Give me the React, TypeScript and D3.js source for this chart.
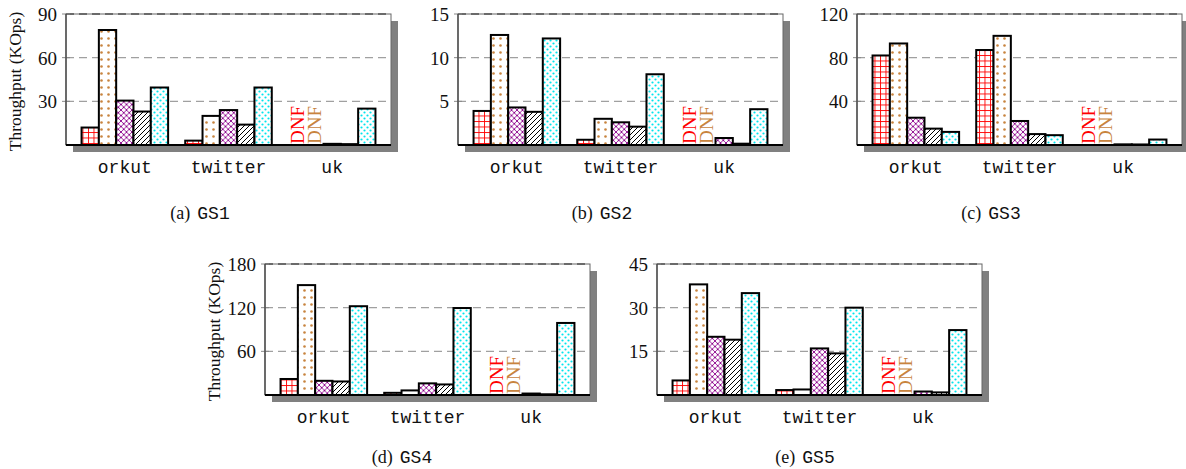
import React from "react";
import * as d3 from "d3";

// graph datasets on the x axis
const categories = ["orkut", "twitter", "uk"];
// five systems, one pattern each (no legend in the figure)
const systems = ["sysA", "sysB", "sysC", "sysD", "sysE"];

// throughput in KOps, rows follow categories, null = DNF
const gs1 = [
  [12, 79, 30.5, 23, 39.5],
  [3, 20, 24, 14, 39.5],
  [null, null, 0.8, 0.6, 25],
];
const gs2 = [
  [3.9, 12.6, 4.3, 3.8, 12.2],
  [0.6, 3.0, 2.6, 2.1, 8.1],
  [null, null, 0.8, 0.15, 4.1],
];
const gs3 = [
  [82, 93, 25, 15, 12],
  [87, 100, 22, 10, 9],
  [null, null, 0.6, 0.5, 5],
];
const gs4 = [
  [22, 151, 19.5, 18.6, 122],
  [3, 6.3, 16, 14.5, 119.5],
  [null, null, 2, 1, 99],
];
const gs5 = [
  [5, 38, 20, 19, 35],
  [1.7, 1.9, 16, 14.3, 30],
  [null, null, 1.2, 0.9, 22.3],
];

const yMaxes = [90, 15, 120, 180, 45];
const yTicks = [
  [30, 60, 90],
  [5, 10, 15],
  [40, 80, 120],
  [60, 120, 180],
  [15, 30, 45],
];
const captionLetters = ["(a)", "(b)", "(c)", "(d)", "(e)"];
const captionNames = ["GS1", "GS2", "GS3", "GS4", "GS5"];

const panelData = [gs1, gs2, gs3, gs4, gs5];
const layout = [
  { left: 66, top: 14, ylabel: true, capX: 200, capY: 218.5 },
  { left: 458, top: 14, ylabel: false, capX: 602, capY: 218.5 },
  { left: 857, top: 14, ylabel: false, capX: 991, capY: 218.5 },
  { left: 265, top: 264, ylabel: true, capX: 402, capY: 463 },
  { left: 657, top: 264, ylabel: false, capX: 805, capY: 463 },
];
const W = 325;
const H = 131;

const fills = ["url(#pGrid)", "url(#pDots)", "url(#pCross)", "url(#pHatch)", "url(#pCdots)"];
const dnfColors = ["#ff0000", "#c8843e"];
const serif = "'Liberation Serif', 'DejaVu Serif', serif";
const mono = "'Liberation Mono', 'DejaVu Sans Mono', monospace";

const Panel = ({ idx }: { idx: number }) => {
  const { left, top, ylabel, capX, capY } = layout[idx];
  const data = panelData[idx];
  const x = d3
    .scaleBand()
    .domain(categories)
    .range([left, left + W])
    .paddingInner(0.165)
    .paddingOuter(0.15);
  const xs = d3.scaleBand().domain(systems).range([0, x.bandwidth()]);
  const y = d3.scaleLinear().domain([0, yMaxes[idx]]).range([top + H, top]);
  const bottom = top + H;

  return (
    <g>
      <rect x={left + 7} y={top + 7} width={W} height={H} fill="#808080" />
      <rect x={left} y={top} width={W} height={H} fill="#fff" stroke="#666" strokeWidth={1} />
      {yTicks[idx].map((t) => (
        <g key={t}>
          <line
            x1={left}
            x2={left + W}
            y1={y(t)}
            y2={y(t)}
            stroke={t === yMaxes[idx] ? "#222" : "#a0a0a0"}
            strokeWidth={1.2}
            strokeDasharray="8 5"
          />
          <line x1={left - 4} x2={left + 4} y1={y(t)} y2={y(t)} stroke="#888" strokeWidth={1} />
          <text
            x={left - 9}
            y={y(t)}
            dy="0.36em"
            textAnchor="end"
            fontFamily={serif}
            fontSize={19}
            fill="#111"
          >
            {t}
          </text>
        </g>
      ))}
      {categories.map((c, ci) =>
        systems.map((s, si) => {
          const v = data[ci][si];
          const bx = (x(c) as number) + (xs(s) as number);
          if (v === null) {
            return (
              <text
                key={c + s}
                transform={`translate(${bx + xs.bandwidth() / 2},${bottom - 1}) rotate(-90)`}
                dy="0.34em"
                fontFamily={serif}
                fontSize={19}
                fill={dnfColors[si]}
              >
                DNF
              </text>
            );
          }
          return (
            <rect
              key={c + s}
              x={bx}
              y={y(v)}
              width={xs.bandwidth()}
              height={bottom - y(v)}
              fill={fills[si]}
              stroke="#000"
              strokeWidth={2}
            />
          );
        })
      )}
      <line x1={left} x2={left} y1={top} y2={bottom} stroke="#444" strokeWidth={1.3} />
      <line x1={left} x2={left + W} y1={bottom} y2={bottom} stroke="#000" strokeWidth={2} />
      {categories.map((c) => (
        <text
          key={c}
          x={(x(c) as number) + x.bandwidth() / 2}
          y={bottom + 28}
          textAnchor="middle"
          fontFamily={mono}
          fontSize={18}
          fill="#111"
        >
          {c}
        </text>
      ))}
      {ylabel && (
        <text
          transform={`translate(${left - 45},${top + H / 2 + 2}) rotate(-90)`}
          textAnchor="middle"
          fontFamily={serif}
          fontSize={17.5}
          fill="#111"
        >
          Throughput (KOps)
        </text>
      )}
      <text x={capX} y={capY} textAnchor="middle" fontSize={18} fill="#111">
        <tspan fontFamily={serif}>{captionLetters[idx]}</tspan>
        <tspan fontFamily={mono} dx={7}>
          {captionNames[idx]}
        </tspan>
      </text>
    </g>
  );
};

export default function App() {
  return (
    <svg
      width={1186}
      height={469}
      style={{ position: "absolute", left: 0, top: 0, background: "#fff" }}
    >
      <defs>
        <pattern id="pGrid" width={5.5} height={5.5} patternUnits="userSpaceOnUse">
          <rect width={5.5} height={5.5} fill="#fff" />
          <path d="M0 0.5 H5.5 M0.5 0 V5.5" stroke="#ff0000" strokeWidth={0.9} />
        </pattern>
        <pattern id="pDots" width={7} height={7} patternUnits="userSpaceOnUse">
          <rect width={7} height={7} fill="#fff" />
          <circle cx={3.5} cy={3.5} r={1.3} fill="#c8843e" />
        </pattern>
        <pattern id="pCross" width={5.5} height={5.5} patternUnits="userSpaceOnUse">
          <rect width={5.5} height={5.5} fill="#fff" />
          <path d="M0 0 L5.5 5.5 M5.5 0 L0 5.5" stroke="#8b008b" strokeWidth={0.9} />
        </pattern>
        <pattern id="pHatch" width={5} height={5} patternUnits="userSpaceOnUse">
          <rect width={5} height={5} fill="#fff" />
          <path d="M0 5 L5 0 M-1 1 L1 -1 M4 6 L6 4" stroke="#000" strokeWidth={1} />
        </pattern>
        <pattern id="pCdots" width={6} height={6} patternUnits="userSpaceOnUse">
          <rect width={6} height={6} fill="#fff" />
          <circle cx={1.5} cy={1.5} r={1.1} fill="#00e5ee" />
          <circle cx={4.5} cy={4.5} r={1.1} fill="#00e5ee" />
        </pattern>
      </defs>
      {layout.map((_, i) => (
        <Panel key={i} idx={i} />
      ))}
    </svg>
  );
}
